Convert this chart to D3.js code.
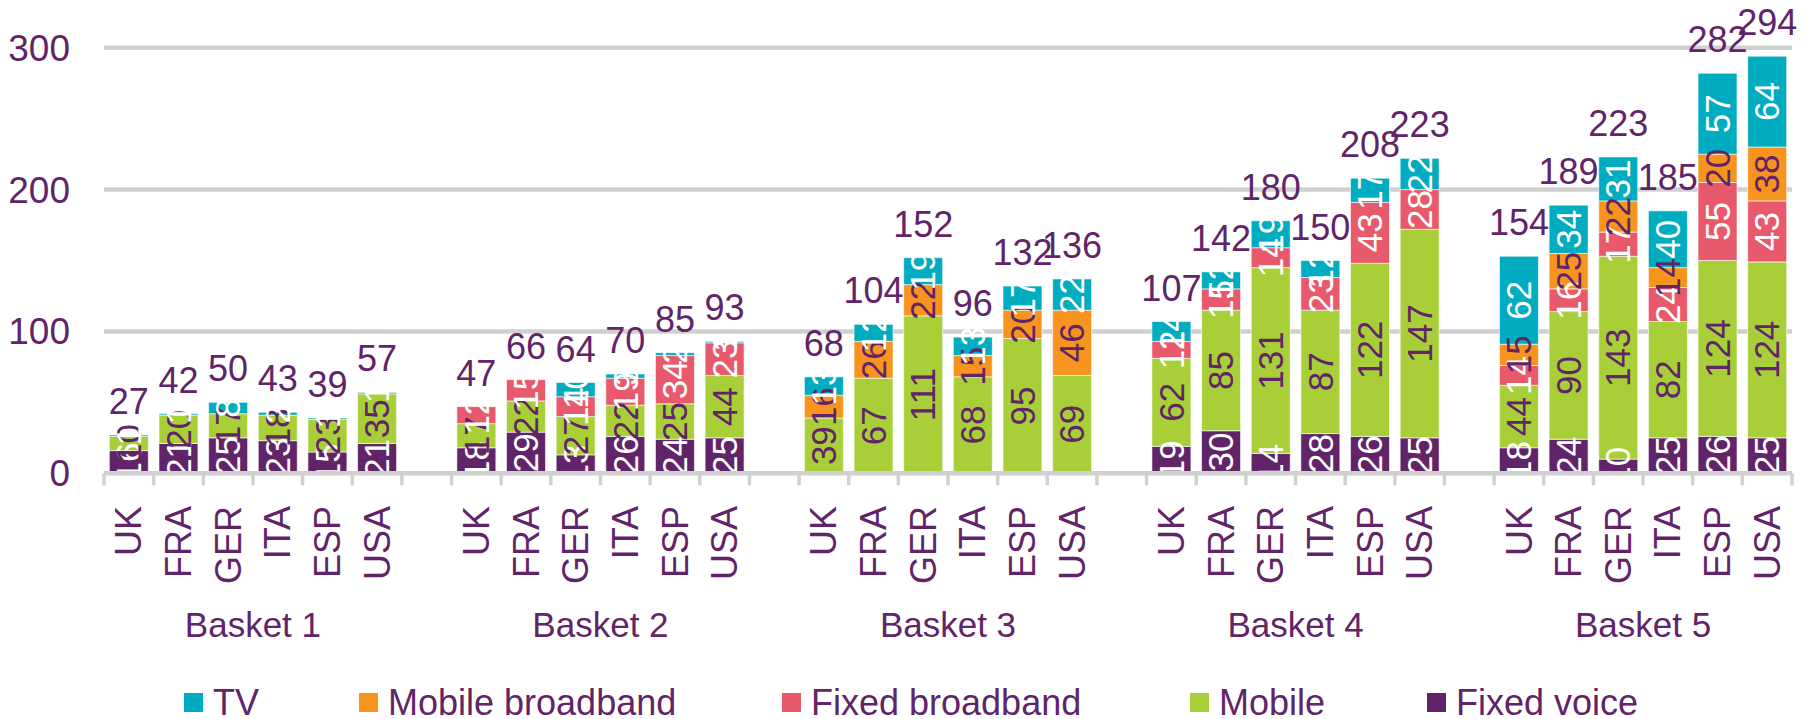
<!DOCTYPE html>
<html>
<head>
<meta charset="utf-8">
<script src="https://cdn.jsdelivr.net/npm/d3@7"></script>
<style>
  body { margin: 0; background: #fff; }
  svg text { font-family: "Liberation Sans", Arial, sans-serif; }
</style>
</head>
<body>
<div id="chart"></div>
<script>
// categories
var baskets = ["Basket 1", "Basket 2", "Basket 3", "Basket 4", "Basket 5"];
var countries = ["UK", "FRA", "GER", "ITA", "ESP", "USA"];
var yTicks = [0, 100, 200, 300];

// series values, basket by basket, countries in order above
var fixedVoice      = [16, 21, 25, 23, 15, 21,  18, 29, 13, 26, 24, 25,  0, 0, 0, 0, 0, 0,        19, 30, 14, 28, 26, 25,      18, 24, 10, 25, 26, 25];
var mobile          = [10, 20, 17, 18, 23, 35,  17, 22, 27, 22, 25, 44,  39, 67, 111, 68, 95, 69, 62, 85, 131, 87, 122, 147, 44, 90, 143, 82, 124, 124];
var fixedBroadband  = [0, 0, 0, 0, 0, 0,        12, 15, 14, 19, 34, 23,  0, 0, 0, 0, 0, 0,        12, 15, 14, 23, 43, 28,      14, 16, 17, 24, 55, 43];
var mobileBroadband = [0, 0, 0, 0, 0, 0,        0, 0, 0, 0, 0, 0,        16, 26, 22, 15, 20, 46,  0, 0, 0, 0, 0, 0,            15, 25, 22, 14, 20, 38];
var tv              = [1, 1, 8, 2, 1, 1,        0, 0, 10, 3, 2, 1,       13, 12, 19, 13, 17, 22,  14, 12, 19, 12, 17, 22,      62, 34, 31, 40, 57, 64];
var totals          = [27, 42, 50, 43, 39, 57,  47, 66, 64, 70, 85, 93,  68, 104, 152, 96, 132, 136, 107, 142, 180, 150, 208, 223, 154, 189, 223, 185, 282, 294];

var purple = "#612468";
var series = [
    {name: "Fixed voice", values: fixedVoice, color: "#612468", label: "#ffffff"},
    {name: "Mobile", values: mobile, color: "#a8cf38", label: purple},
    {name: "Fixed broadband", values: fixedBroadband, color: "#e85a6b", label: "#ffffff"},
    {name: "Mobile broadband", values: mobileBroadband, color: "#f7941e", label: purple},
    {name: "TV", values: tv, color: "#00acbf", label: "#ffffff"}
];
var legendOrder = ["TV", "Mobile broadband", "Fixed broadband", "Mobile", "Fixed voice"];
var legendX = [184, 359, 782, 1190, 1427];

var width = 1816, height = 719;
var plotLeft = 104, plotRight = 1792, plotTop = 47.7, plotBottom = 473.3;

// one slot per bar plus an empty slot between baskets
var slots = [];
var rows = [];
baskets.forEach(function(b, bi){
    if (bi > 0) slots.push("gap" + bi);
    countries.forEach(function(c, ci){
        var key = b + "|" + c;
        slots.push(key);
        rows.push({key: key, basket: b, country: c, i: bi * countries.length + ci});
    });
});

var x = d3.scaleBand()
    .domain(slots)
    .range([plotLeft, plotRight])
    .paddingInner(0.215)
    .paddingOuter(0.1075);
var step = x.step();

var y = d3.scaleLinear()
    .domain([0, 300])
    .range([plotBottom, plotTop]);

var svg = d3.select("#chart")
    .append("svg")
    .attr("width", width)
    .attr("height", height);

svg.append("defs").append("clipPath")
    .attr("id", "plotClip")
    .append("rect")
    .attr("x", plotLeft).attr("y", 0)
    .attr("width", plotRight - plotLeft).attr("height", plotBottom);

// gridlines
svg.append("g").selectAll("line")
    .data(yTicks.filter(function(d){ return d > 0; }))
    .enter().append("line")
    .attr("x1", plotLeft).attr("x2", plotRight)
    .attr("y1", function(d){ return y(d); })
    .attr("y2", function(d){ return y(d); })
    .attr("stroke", "#d0d0d0")
    .attr("stroke-width", 4.5);

// y labels
svg.append("g").selectAll("text")
    .data(yTicks)
    .enter().append("text")
    .attr("x", 70)
    .attr("y", function(d){ return y(d); })
    .attr("dy", "0.35em")
    .attr("text-anchor", "end")
    .attr("fill", purple)
    .style("font-size", "37px")
    .text(function(d){ return d; });

// stack the segments
var stacked = [];
rows.forEach(function(r){
    var base = 0;
    series.forEach(function(s){
        var v = s.values[r.i];
        stacked.push({row: r, s: s, v: v, y0: base, y1: base + v});
        base += v;
    });
});

var bars = svg.append("g");
bars.selectAll("rect")
    .data(stacked.filter(function(d){ return d.v > 0; }))
    .enter().append("rect")
    .attr("x", function(d){ return x(d.row.key); })
    .attr("width", x.bandwidth())
    .attr("y", function(d){ return y(d.y1); })
    .attr("height", function(d){ return y(d.y0) - y(d.y1); })
    .attr("fill", function(d){ return d.s.color; })
    .attr("stroke", "rgba(255,255,255,0.6)")
    .attr("stroke-width", 1);

// segment labels
svg.append("g")
    .attr("clip-path", "url(#plotClip)")
    .selectAll("text")
    .data(stacked.filter(function(d){ return d.v > 0; }))
    .enter().append("text")
    .attr("transform", function(d){
        var cx = x(d.row.key) + x.bandwidth() / 2;
        var cy = y((d.y0 + d.y1) / 2);
        return "translate(" + cx + "," + cy + ") rotate(-90)";
    })
    .attr("dy", "0.35em")
    .attr("text-anchor", "middle")
    .attr("fill", function(d){ return d.s.label; })
    .style("font-size", "35px")
    .text(function(d){ return d.v; });

// totals
svg.append("g").selectAll("text")
    .data(rows)
    .enter().append("text")
    .attr("x", function(d){ return x(d.key) + x.bandwidth() / 2; })
    .attr("y", function(d){
        var sum = d3.sum(series, function(s){ return s.values[d.i]; });
        return y(sum) - 21;
    })
    .attr("text-anchor", "middle")
    .attr("fill", purple)
    .style("font-size", "36px")
    .text(function(d){ return totals[d.i]; });

// x axis line and ticks
svg.append("line")
    .attr("x1", plotLeft).attr("x2", plotRight)
    .attr("y1", plotBottom).attr("y2", plotBottom)
    .attr("stroke", "#d0d0d0")
    .attr("stroke-width", 4.5);

svg.append("g").selectAll("line")
    .data(d3.range(slots.length + 1))
    .enter().append("line")
    .attr("x1", function(i){ return plotLeft + i * step; })
    .attr("x2", function(i){ return plotLeft + i * step; })
    .attr("y1", plotBottom).attr("y2", plotBottom + 12)
    .attr("stroke", "#d0d0d0")
    .attr("stroke-width", 3.5);

// country labels
svg.append("g").selectAll("text")
    .data(rows)
    .enter().append("text")
    .attr("transform", function(d){
        return "translate(" + (x(d.key) + x.bandwidth() / 2) + "," + 506 + ") rotate(-90)";
    })
    .attr("dy", "0.35em")
    .attr("text-anchor", "end")
    .attr("fill", purple)
    .style("font-size", "36px")
    .text(function(d){ return d.country; });

// basket labels
svg.append("g").selectAll("text")
    .data(baskets)
    .enter().append("text")
    .attr("x", function(b){
        return (x(b + "|" + countries[0]) + x(b + "|" + countries[countries.length - 1]) + x.bandwidth()) / 2;
    })
    .attr("y", 637)
    .attr("text-anchor", "middle")
    .attr("fill", purple)
    .style("font-size", "35px")
    .text(function(b){ return b; });

// legend
var legend = svg.append("g").selectAll("g")
    .data(legendOrder)
    .enter().append("g")
    .attr("transform", function(d, i){ return "translate(" + legendX[i] + ",0)"; });

legend.append("rect")
    .attr("x", 0).attr("y", 693)
    .attr("width", 19).attr("height", 19)
    .attr("fill", function(d){
        return series.filter(function(s){ return s.name == d; })[0].color;
    });

legend.append("text")
    .attr("x", 29).attr("y", 714.5)
    .attr("fill", purple)
    .style("font-size", "36px")
    .text(function(d){ return d; });
</script>
</body>
</html>
